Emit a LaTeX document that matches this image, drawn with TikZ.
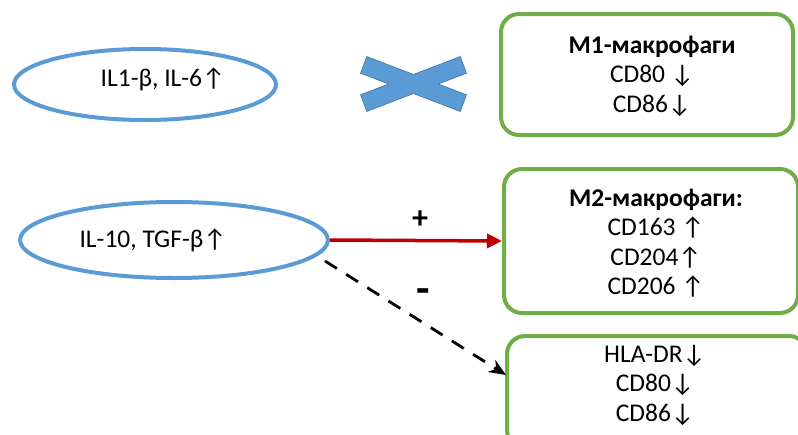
\documentclass[tikz,border=0pt]{standalone}
\usepackage{fontspec}
\setmainfont{Carlito}
\usetikzlibrary{shapes.geometric,arrows.meta}
\definecolor{ellblue}{HTML}{5B9BD5}
\definecolor{boxgreen}{HTML}{70AD47}
\definecolor{crossedge}{HTML}{41719C}
\definecolor{arrred}{HTML}{C00000}
\begin{document}
\begin{tikzpicture}[x=1pt,y=-1pt,
  ell/.style={ellipse,draw=ellblue,line width=4pt,inner sep=0pt},
  gbox/.style={rectangle,rounded corners=18pt,draw=boxgreen,line width=4pt,inner sep=0pt},
  txt/.style={font=\fontsize{25.5}{29.5}\selectfont,align=center,inner sep=0pt},
  sign/.style={font=\fontsize{32}{34}\selectfont\bfseries,inner sep=0pt},
  crossbar/.style={fill=ellblue,draw=crossedge,line width=1.4pt,line join=miter},
  redarrow/.style={arrred,line width=3.5pt,-{Triangle[length=15pt,width=14pt]}},
  dasharrow/.style={black,line width=2.8pt,dash pattern=on 14pt off 11pt,-{Stealth[length=17pt,width=14pt]}}]
\useasboundingbox (0,0) rectangle (798,434);
\clip (0,0) rectangle (798,434);
% ellipses
\node[ell,minimum width=262pt,minimum height=71pt] (e1) at (145,84.5) {};
\node[txt] (t1) at (163,79) {IL1-β, IL-6↑};
\node[ell,minimum width=308pt,minimum height=76pt] (e2) at (174,240) {};
\node[txt] (t2) at (153,240) {IL-10, TGF-β↑};
% boxes
\node[gbox,minimum width=292pt,minimum height=121pt] (m1) at (647,74.5) {};
\node[txt] (m1t) at (652,76) {\textbf{M1-макрофаги}\\CD80 ↓\\CD86↓};
\node[gbox,minimum width=294pt,minimum height=144pt] (m2) at (651,241) {};
\node[txt] (m2t) at (656,243) {\textbf{M2-макрофаги:}\\CD163 ↑\\CD204↑\\CD206 ↑};
\node[gbox,minimum width=300pt,minimum height=112pt] (b3) at (657,392) {};
\node[txt] (b3t) at (655,385) {HLA-DR↓\\CD80↓\\CD86↓};
% cross
\draw[crossbar] (367,57) -- (361,73) -- (460,111) -- (466,95) -- cycle;
\draw[crossbar] (361,95) -- (367,111) -- (466,73) -- (460,57) -- cycle;
\fill[ellblue] (367,57) -- (361,73) -- (460,111) -- (466,95) -- cycle;
\fill[ellblue] (361,95) -- (367,111) -- (466,73) -- (460,57) -- cycle;
% arrows
\draw[redarrow] (e2.east) -- (m2.west);
\coordinate (ds) at (325,261);
\coordinate (de) at (506,375);
\draw[dasharrow] (ds) -- (de);
\node[sign] (plus) at (420,220) {+};
\node[sign,font=\fontsize{44}{44}\selectfont\bfseries] (minus) at (423,296) {-};
\end{tikzpicture}
\end{document}
